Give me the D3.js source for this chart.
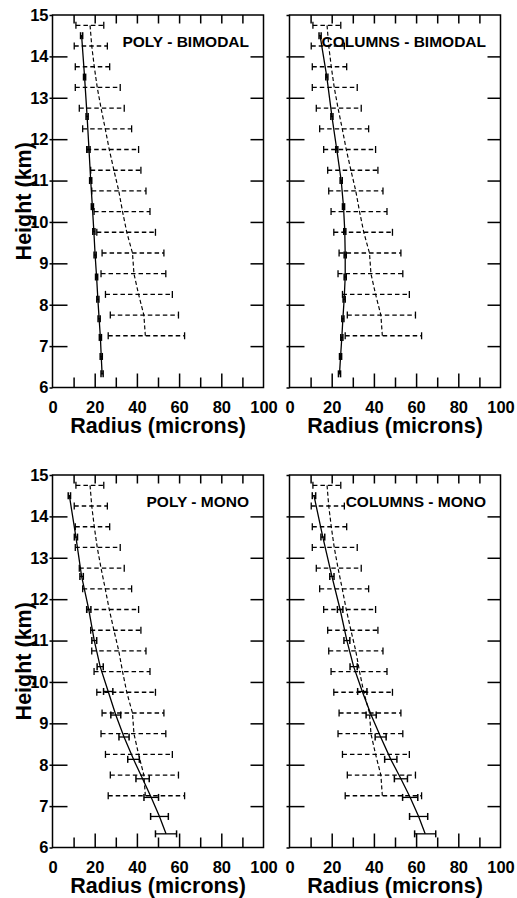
<!DOCTYPE html>
<html><head><meta charset="utf-8">
<script src="https://cdn.jsdelivr.net/npm/d3@7"></script>
<style>
body{margin:0;background:#fff}
svg{display:block}
text{font-family:"Liberation Sans",Arial,Helvetica,sans-serif;font-weight:bold;fill:#000}
</style>
</head><body>
<script>
// ---- data ----
const xTicks = [0, 20, 40, 60, 80, 100];
const xMinorTicks = [10, 30, 50, 70, 90];
const xTopTicks = [10, 20, 30, 40, 50, 60, 70, 80, 90];
const yTicks = [6, 7, 8, 9, 10, 11, 12, 13, 14, 15];
const xDomain = [0, 100];
const yDomain = [6, 15];

// reference (dashed) profile, same in all panels
const refHeights = [14.75, 14.25, 13.75, 13.25, 12.75, 12.25, 11.75, 11.25, 10.75, 10.25, 9.75, 9.25, 8.75, 8.25, 7.75, 7.25];
const refMean = [17.8, 18.6, 19.8, 21.2, 23.0, 25.0, 26.9, 29.1, 31.4, 33.2, 35.2, 37.9, 38.6, 40.8, 43.3, 44.0];
const refLow  = [11.1, 10.3, 10.8, 10.8, 12.7, 14.3, 16.2, 18.1, 18.6, 19.7, 21.0, 23.5, 23.0, 25.1, 27.4, 26.4];
const refHigh = [24.3, 26.0, 27.1, 32.1, 34.0, 37.5, 40.8, 41.9, 44.3, 46.2, 48.8, 52.8, 53.7, 56.8, 59.7, 62.6];

// model (solid) profiles
const modelHeights = [14.5, 13.5, 12.55, 11.75, 11.0, 10.37, 9.77, 9.2, 8.67, 8.13, 7.66, 7.21, 6.75, 6.33];
const polyBimodal    = [13.8, 15.2, 16.4, 17.3, 18.1, 18.9, 19.6, 20.2, 20.9, 21.5, 22.1, 22.7, 23.1, 23.5];
const polyBimodalErr = [0.5, 0.5, 0.5, 0.5, 0.5, 0.5, 0.5, 0.5, 0.5, 0.5, 0.5, 0.5, 0.5, 0.5];
const columnsBimodal    = [14.5, 17.7, 20.1, 22.4, 24.5, 25.6, 26.2, 26.4, 26.4, 25.9, 25.3, 24.8, 24.2, 23.7];
const columnsBimodalErr = [0.5, 0.5, 0.5, 0.5, 0.5, 0.5, 0.5, 0.5, 0.5, 0.5, 0.5, 0.5, 0.5, 0.5];
const polyMono    = [8.0, 11.1, 13.8, 17.2, 19.8, 22.6, 26.4, 30.0, 33.9, 38.4, 42.7, 46.8, 50.7, 53.8];
const polyMonoErr = [0.55, 0.75, 0.8, 1.0, 1.15, 1.45, 2.2, 2.35, 2.4, 2.75, 3.15, 3.45, 4.2, 5.0];
const columnsMono    = [11.6, 15.8, 20.1, 24.0, 27.2, 30.4, 34.5, 38.7, 43.2, 48.0, 52.8, 57.2, 61.2, 64.3];
const columnsMonoErr = [0.8, 0.9, 1.0, 1.3, 1.4, 1.7, 2.2, 2.4, 2.6, 2.9, 3.1, 3.6, 4.3, 5.0];

const titles = ["POLY - BIMODAL", "COLUMNS - BIMODAL", "POLY - MONO", "COLUMNS - MONO"];
const xTitle = "Radius (microns)";
const yTitle = "Height (km)";

// ---- layout ----
const W = 517, H = 898;
const PW = 211, PH = 372.5;
const panels = [
  {title: titles[0], vals: polyBimodal, err: polyBimodalErr, left: 52.5, top: 15, yLab: true},
  {title: titles[1], vals: columnsBimodal, err: columnsBimodalErr, left: 289.5, top: 15, yLab: false},
  {title: titles[2], vals: polyMono, err: polyMonoErr, left: 52.5, top: 475, yLab: true},
  {title: titles[3], vals: columnsMono, err: columnsMonoErr, left: 289.5, top: 475, yLab: false}
];

const svg = d3.select("body").append("svg").attr("width", W).attr("height", H);

function styleAxis(g, fs) {
  g.select(".domain").remove();
  g.selectAll(".tick line").attr("stroke", "#000").attr("stroke-width", 1.5);
  g.selectAll(".tick text").attr("font-size", fs).attr("font-weight", "bold")
    .attr("font-family", '"Liberation Sans",Arial,Helvetica,sans-serif').attr("fill", "#000");
}

panels.forEach(p => {
  const x = d3.scaleLinear().domain(xDomain).range([p.left, p.left + PW]);
  const y = d3.scaleLinear().domain(yDomain).range([p.top + PH, p.top]);
  const g = svg.append("g");
  const bottomY = p.top + PH;

  // bottom major ticks + labels
  const gb = g.append("g").attr("transform", `translate(0,${bottomY})`)
    .call(d3.axisBottom(x).tickValues(xTicks).tickSize(-14).tickPadding(13.5).tickFormat(d3.format("d")));
  styleAxis(gb, 16.5);
  gb.selectAll(".tick").filter(d => d === 0 || d === 100).select("line").remove();
  // bottom minor ticks
  const gbm = g.append("g").attr("transform", `translate(0,${bottomY})`)
    .call(d3.axisBottom(x).tickValues(xMinorTicks).tickSize(-10).tickFormat(""));
  styleAxis(gbm, 0);
  // top ticks
  const gt = g.append("g").attr("transform", `translate(0,${p.top})`)
    .call(d3.axisTop(x).tickValues(xTopTicks).tickSize(-8.5).tickFormat(""));
  styleAxis(gt, 0);
  // left ticks inward
  const gl = g.append("g").attr("transform", `translate(${p.left},0)`)
    .call(d3.axisLeft(y).tickValues(yTicks.slice(1, -1)).tickSize(-15).tickFormat(""));
  styleAxis(gl, 0);
  // left outward ticks + labels
  const glo = g.append("g").attr("transform", `translate(${p.left},0)`)
    .call(d3.axisLeft(y).tickValues(yTicks).tickSize(3).tickPadding(1)
      .tickFormat(p.yLab ? d3.format("d") : ""));
  styleAxis(glo, 16.5);
  // right ticks inward
  const gr = g.append("g").attr("transform", `translate(${p.left + PW},0)`)
    .call(d3.axisRight(y).tickValues(yTicks.slice(1, -1)).tickSize(-13).tickFormat(""));
  styleAxis(gr, 0);

  // frame
  g.append("rect").attr("x", p.left).attr("y", p.top).attr("width", PW).attr("height", PH)
    .attr("fill", "none").attr("stroke", "#000").attr("stroke-width", 1.5);

  // reference dashed error bars
  const cap = 3.5;
  const ref = refHeights.map((h, i) => ({h, m: refMean[i], lo: refLow[i], hi: refHigh[i]}));
  const rg = g.append("g").attr("stroke", "#000").attr("fill", "none");
  rg.selectAll("line.bar").data(ref).join("line").attr("class", "bar")
    .attr("x1", d => x(d.lo)).attr("x2", d => x(d.hi))
    .attr("y1", d => y(d.h)).attr("y2", d => y(d.h))
    .attr("stroke-width", 1.35).attr("stroke-dasharray", "4.5,3");
  ["lo", "hi"].forEach(k => {
    rg.selectAll("line.cap" + k).data(ref).join("line").attr("class", "cap" + k)
      .attr("x1", d => x(d[k])).attr("x2", d => x(d[k]))
      .attr("y1", d => y(d.h) - cap).attr("y2", d => y(d.h) + cap)
      .attr("stroke-width", 1.3);
  });
  rg.append("path").datum(ref)
    .attr("d", d3.line().x(d => x(d.m)).y(d => y(d.h)))
    .attr("stroke-width", 1.15).attr("stroke-dasharray", "4,2.5");

  // model solid line with error bars
  const mod = modelHeights.map((h, i) => ({h, v: p.vals[i], lo: p.vals[i] - p.err[i], hi: p.vals[i] + p.err[i]}));
  const mg = g.append("g").attr("stroke", "#000").attr("fill", "none");
  mg.append("path").datum(mod)
    .attr("d", d3.line().x(d => x(d.v)).y(d => y(d.h)))
    .attr("stroke-width", 1.3);
  mg.selectAll("line.bar").data(mod).join("line").attr("class", "bar")
    .attr("x1", d => x(d.lo)).attr("x2", d => x(d.hi))
    .attr("y1", d => y(d.h)).attr("y2", d => y(d.h)).attr("stroke-width", 1.3);
  ["lo", "hi"].forEach(k => {
    mg.selectAll("line.cap" + k).data(mod).join("line").attr("class", "cap" + k)
      .attr("x1", d => x(d[k])).attr("x2", d => x(d[k]))
      .attr("y1", d => y(d.h) - cap).attr("y2", d => y(d.h) + cap)
      .attr("stroke-width", 1.5);
  });

  // panel title
  g.append("text").attr("x", p.left + PW - 14.5).attr("y", p.top + 31.7)
    .attr("text-anchor", "end").attr("font-size", 15.5).text(p.title);

  // x title
  g.append("text").attr("x", p.left + PW / 2).attr("y", bottomY + 45.5)
    .attr("text-anchor", "middle").attr("font-size", 21.5).text(xTitle);

  // y title
  if (p.yLab) {
    g.append("text").attr("transform", `translate(31,${p.top + PH / 2}) rotate(-90)`)
      .attr("text-anchor", "middle").attr("font-size", 21.5).text(yTitle);
  }
});
</script>
</body></html>
